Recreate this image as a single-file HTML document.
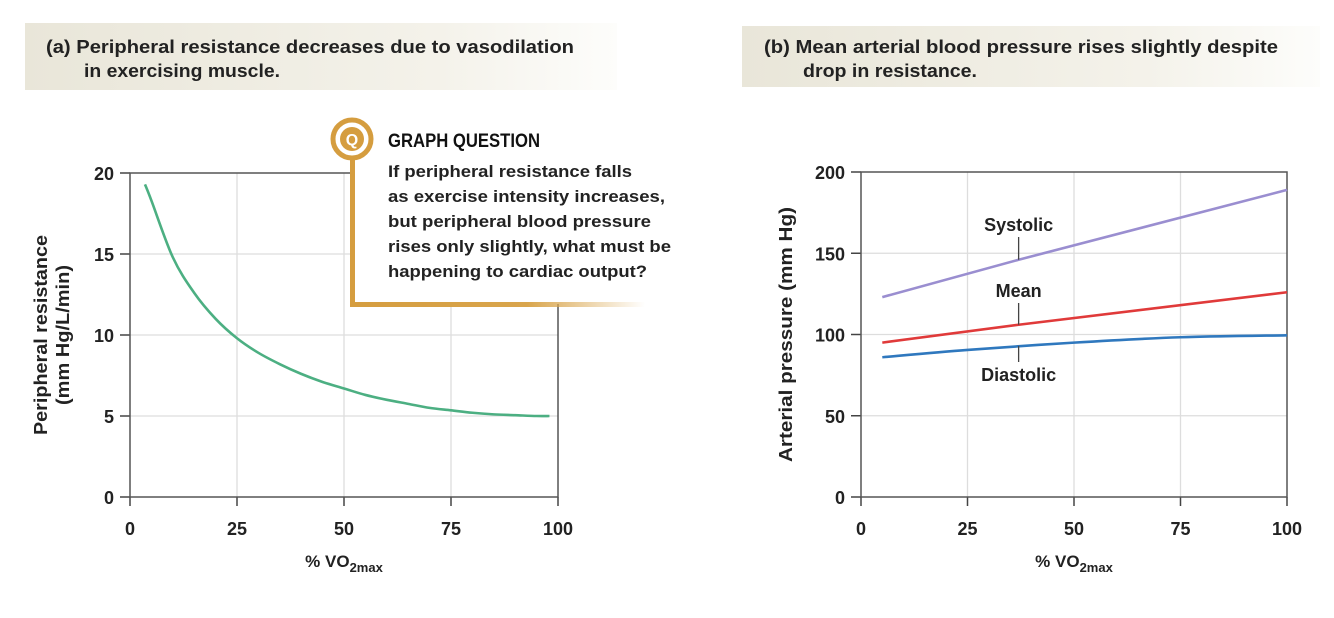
<!DOCTYPE html>
<html><head><meta charset="utf-8"><style>
body{margin:0;background:#fff;width:1334px;height:613px;overflow:hidden;font-family:"Liberation Sans",sans-serif}
text{font-family:"Liberation Sans",sans-serif}
</style></head><body>
<svg width="1334" height="613">
<defs>
<linearGradient id="hg" x1="0" x2="1"><stop offset="0" stop-color="#e9e6d9"/><stop offset="0.7" stop-color="#f4f2ea"/><stop offset="1" stop-color="#fdfdfb"/></linearGradient>
<linearGradient id="gl" x1="0" x2="1"><stop offset="0" stop-color="#d59d3f"/><stop offset="0.6" stop-color="#d9a54c"/><stop offset="1" stop-color="#d9a54c" stop-opacity="0"/></linearGradient>
</defs>
<g>
<rect x="25" y="23" width="592" height="67" fill="url(#hg)"/>
<text x="46" y="53" font-size="18" font-weight="bold" fill="#222" textLength="528" lengthAdjust="spacingAndGlyphs">(a) Peripheral resistance decreases due to vasodilation</text>
<text x="84" y="77" font-size="18" font-weight="bold" fill="#222" textLength="196" lengthAdjust="spacingAndGlyphs">in exercising muscle.</text>
</g>
<g>
<rect x="742" y="26" width="578" height="61" fill="url(#hg)"/>
<text x="764" y="53" font-size="18" font-weight="bold" fill="#222" textLength="514" lengthAdjust="spacingAndGlyphs">(b) Mean arterial blood pressure rises slightly despite</text>
<text x="803" y="77" font-size="18" font-weight="bold" fill="#222" textLength="174" lengthAdjust="spacingAndGlyphs">drop in resistance.</text>
</g>
<g id="chartA"></g>
<g id="chartB"></g>
<g>
<rect x="353" y="120" width="330" height="184" fill="#fff"/>
<rect x="350" y="160" width="5" height="147" fill="#d59d3f"/>
<rect x="350" y="302" width="295" height="5" fill="url(#gl)"/>
<circle cx="352" cy="139" r="19" fill="#fff" stroke="#d59d3f" stroke-width="5"/>
<circle cx="352" cy="139" r="12" fill="#d59d3f"/>
<text x="352" y="145" font-size="16" font-weight="bold" fill="#fff" text-anchor="middle">Q</text>
<text x="388" y="147" font-size="19" font-weight="bold" fill="#111" textLength="152" lengthAdjust="spacingAndGlyphs">GRAPH QUESTION</text>
<text x="388" y="177" font-size="17" font-weight="bold" fill="#222" textLength="244" lengthAdjust="spacingAndGlyphs">If peripheral resistance falls</text>
<text x="388" y="202" font-size="17" font-weight="bold" fill="#222" textLength="277" lengthAdjust="spacingAndGlyphs">as exercise intensity increases,</text>
<text x="388" y="227" font-size="17" font-weight="bold" fill="#222" textLength="263" lengthAdjust="spacingAndGlyphs">but peripheral blood pressure</text>
<text x="388" y="252" font-size="17" font-weight="bold" fill="#222" textLength="283" lengthAdjust="spacingAndGlyphs">rises only slightly, what must be</text>
<text x="388" y="277" font-size="17" font-weight="bold" fill="#222" textLength="259" lengthAdjust="spacingAndGlyphs">happening to cardiac output?</text>
</g>
</svg>
<script>
const aX=[3.5,5,10,15,20,25,30,35,40,45,50,55,60,65,70,75,80,85,90,95,98];
const aY=[19.3,18.3,14.8,12.6,11.0,9.8,8.9,8.2,7.6,7.1,6.7,6.3,6.0,5.75,5.5,5.35,5.2,5.1,5.05,5.0,5.0];
const aYTicks=[0,5,10,15,20];
const xTicks=[0,25,50,75,100];
const bX=[5,37,100];
const systolic=[123,146,189];
const mean=[95,106,126];
const dX=[5,25,50,75,100];
const diastolic=[86,90.5,95,98.3,99.5];
const bYTicks=[0,50,100,150,200];
const NS='http://www.w3.org/2000/svg';
function mk(p,t,a){const e=document.createElementNS(NS,t);for(const k in a)e.setAttribute(k,a[k]);p.appendChild(e);return e;}
function axes(g,x0,x1,y0,y1,ymax,yt,ylab,ylab2,lx,tl1,tl2){
 const sx=v=>x0+(x1-x0)*v/100, sy=v=>y0-(y0-y1)*v/ymax;
 xTicks.forEach(t=>{if(t>0&&t<100){const l=mk(g,'line',{x1:sx(t),x2:sx(t),y1:y1,y2:y0,stroke:'#ddd','stroke-width':1.3});}
  mk(g,'line',{x1:sx(t),x2:sx(t),y1:y0,y2:y0+9,stroke:'#444','stroke-width':1.5});
  const tx=mk(g,'text',{x:sx(t),y:y0+38,'font-size':18,'font-weight':'bold','text-anchor':'middle',fill:'#222'});tx.textContent=t;});
 yt.forEach(t=>{if(t>0&&t<ymax){const l=mk(g,'line',{x1:x0,x2:x1,y1:sy(t),y2:sy(t),stroke:'#ddd','stroke-width':1.3});}
  mk(g,'line',{x1:x0-10,x2:x0,y1:sy(t),y2:sy(t),stroke:'#444','stroke-width':1.5});
  const tx=mk(g,'text',{x:x0-16,y:sy(t)+7,'font-size':18,'font-weight':'bold','text-anchor':'end',fill:'#222'});tx.textContent=t;});
 mk(g,'rect',{x:x0,y:y1,width:x1-x0,height:y0-y1,fill:'none',stroke:'#555','stroke-width':1.5});
 const xl=mk(g,'text',{x:(x0+x1)/2,y:y0+70,'font-size':17,'font-weight':'bold','text-anchor':'middle',fill:'#222'});
 xl.innerHTML='% VO<tspan font-size="13" dy="5">2max</tspan>';
 const cy=(y0+y1)/2;
 const yl=mk(g,'text',{x:lx,y:cy,'font-size':18,'font-weight':'bold','text-anchor':'middle',fill:'#222',textLength:tl1,lengthAdjust:'spacingAndGlyphs',transform:`rotate(-90 ${lx} ${cy})`});yl.textContent=ylab;
 if(ylab2){const y2=mk(g,'text',{x:lx+22,y:cy,'font-size':18,'font-weight':'bold','text-anchor':'middle',fill:'#222',textLength:tl2,lengthAdjust:'spacingAndGlyphs',transform:`rotate(-90 ${lx+22} ${cy})`});y2.textContent=ylab2;}
 return [sx,sy];
}
function line(g,xs,ys,sx,sy,col,name,smooth){
 let d='';
 if(smooth){const p=xs.map((x,i)=>[sx(x),sy(ys[i])]);d='M'+p[0];for(let i=0;i<p.length-1;i++){const a=p[i-1]||p[i],b=p[i],c=p[i+1],e=p[i+2]||c;d+=` C${b[0]+(c[0]-a[0])/6},${b[1]+(c[1]-a[1])/6} ${c[0]-(e[0]-b[0])/6},${c[1]-(e[1]-b[1])/6} ${c[0]},${c[1]}`;}}
 else d=xs.map((x,i)=>(i?'L':'M')+sx(x)+','+sy(ys[i])).join('');
 const p=mk(g,'path',{d:d,fill:'none',stroke:col,'stroke-width':2.6});
 
}
const gA=document.getElementById('chartA');
const [ax,ay]=axes(gA,130,558,497,173,20,aYTicks,'Peripheral resistance','(mm Hg/L/min)',47,200,140);
line(gA,aX,aY,ax,ay,'#4caf82','resistance-line',true);
const gB=document.getElementById('chartB');
const [bx,by]=axes(gB,861,1287,497,172,200,bYTicks,'Arterial pressure (mm Hg)',null,792,255,0);
line(gB,bX,systolic,bx,by,'#9a8ed0','systolic-line',false);
line(gB,bX,mean,bx,by,'#e03a3a','mean-line',false);
line(gB,dX,diastolic,bx,by,'#2f78be','diastolic-line',true);
[['Systolic',231,146,'s'],['Mean',297,106,'m'],['Diastolic',381,93,'d']].forEach(([t,yy,v,k])=>{
 const lx=bx(37);
 const tx=mk(gB,'text',{x:lx,y:yy,'font-size':18,'font-weight':'bold','text-anchor':'middle',fill:'#222'});tx.textContent=t;
 
 if(k==='d')mk(gB,'line',{x1:lx,x2:lx,y1:by(v),y2:yy-19,stroke:'#444','stroke-width':1.3});
 else mk(gB,'line',{x1:lx,x2:lx,y1:yy+6,y2:by(v),stroke:'#444','stroke-width':1.3});
});
</script>
</body></html>
